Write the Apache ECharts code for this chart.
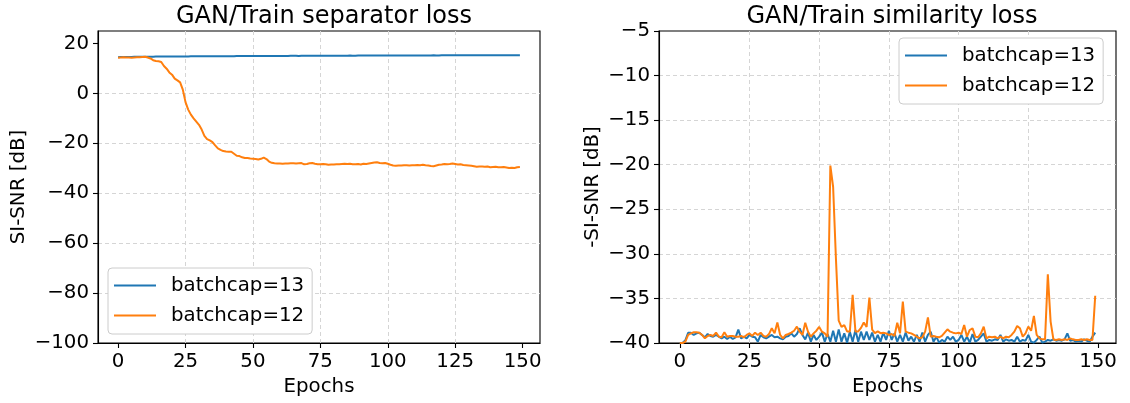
<!DOCTYPE html>
<html>
<head>
<meta charset="utf-8">
<script src="https://cdn.jsdelivr.net/npm/echarts@6/dist/echarts.min.js"></script>
<style>
  html, body { margin: 0; padding: 0; background: #fff; }
  #chart { width: 1130px; height: 403px; }
</style>
</head>
<body>
<div id="chart"></div>
<script>
// Training curves, one value per epoch (0..149)
const seriesNames = ['batchcap=13', 'batchcap=12'];
const xTicks = [0, 25, 50, 75, 100, 125, 150];
const sepTicks = [-100, -80, -60, -40, -20, 0, 20];
const simTicks = [-40, -35, -30, -25, -20, -15, -10, -5];

// GAN/Train separator loss, SI-SNR [dB]
const sepCap13 = [
  14.5,14.6,14.6,14.6,14.6,14.6,14.7,14.7,14.7,14.7,
  14.7,14.7,14.7,14.7,14.8,14.8,14.8,14.8,14.8,14.8,
  14.8,14.8,14.8,14.8,14.8,14.8,14.8,14.9,14.9,14.9,
  14.9,14.9,14.9,14.9,14.9,14.9,14.9,14.9,14.9,14.9,
  14.9,14.9,14.9,14.9,15.0,15.0,15.0,15.0,15.0,15.0,
  15.0,15.0,15.0,15.0,15.0,15.0,15.0,15.0,15.0,15.0,
  15.0,15.0,15.0,15.0,15.1,15.1,15.1,15.0,15.1,15.1,
  15.1,15.1,15.1,15.1,15.1,15.1,15.1,15.1,15.1,15.1,
  15.1,15.1,15.1,15.1,15.1,15.1,15.2,15.1,15.1,15.2,
  15.2,15.2,15.2,15.2,15.2,15.2,15.2,15.2,15.2,15.2,
  15.2,15.2,15.2,15.2,15.2,15.2,15.2,15.2,15.2,15.2,
  15.2,15.2,15.2,15.2,15.2,15.2,15.2,15.3,15.2,15.2,
  15.3,15.3,15.3,15.3,15.3,15.3,15.3,15.3,15.3,15.3,
  15.3,15.3,15.3,15.3,15.3,15.3,15.3,15.3,15.3,15.3,
  15.3,15.3,15.3,15.3,15.3,15.3,15.3,15.3,15.3,15.3
];
const sepCap12 = [
  14.3,14.4,14.5,14.4,14.4,14.3,14.4,14.5,14.5,14.6,
  14.7,14.4,14.0,13.3,13.0,12.9,12.6,11.0,9.9,8.4,
  7.5,5.9,5.2,4.4,1.5,-3.5,-6.5,-8.5,-10.0,-11.3,
  -12.6,-14.5,-17.0,-18.3,-18.8,-19.5,-20.8,-22.0,-22.6,-23.1,
  -23.3,-23.4,-23.4,-24.2,-25.0,-25.1,-25.6,-25.9,-25.9,-26.1,
  -26.2,-26.3,-26.5,-26.2,-25.7,-26.3,-27.3,-27.8,-28.0,-28.1,
  -28.1,-28.2,-28.1,-28.1,-28.0,-28.0,-28.1,-28.0,-27.9,-28.4,
  -28.3,-28.0,-27.9,-28.2,-28.4,-28.4,-28.3,-28.4,-28.6,-28.5,
  -28.5,-28.4,-28.4,-28.3,-28.2,-28.3,-28.2,-28.4,-28.4,-28.3,
  -28.5,-28.2,-28.3,-28.1,-27.9,-27.7,-27.6,-27.9,-28.0,-27.9,
  -28.2,-28.6,-28.9,-29.0,-28.9,-28.9,-28.8,-28.8,-28.9,-28.8,
  -28.8,-28.7,-28.8,-28.6,-28.8,-28.9,-29.1,-29.2,-28.9,-28.6,
  -28.5,-28.3,-28.4,-28.3,-28.1,-28.3,-28.5,-28.4,-28.7,-28.8,
  -28.9,-29.0,-29.2,-29.4,-29.3,-29.3,-29.4,-29.3,-29.6,-29.5,
  -29.4,-29.6,-29.6,-29.5,-29.7,-29.9,-29.8,-29.9,-29.6,-29.5
];

// GAN/Train similarity loss, -SI-SNR [dB]
const simCap13 = [
  -40,-40,-39.7,-38.85,-38.84,-39.1,-38.92,-38.84,-39.1,-39.36,
  -38.99,-39.21,-39.29,-39.1,-39.29,-39.48,-39.29,-39.55,-39.29,-39.55,
  -39.36,-38.5,-39.48,-39.29,-39.48,-39.1,-39.29,-39.36,-39.85,-39.1,
  -39.36,-39.48,-39.29,-39.1,-39.36,-39.29,-39.48,-39.59,-39.29,-39.21,
  -38.92,-39.29,-38.99,-38.35,-39.1,-39.59,-38.84,-39.85,-39.1,-39.66,
  -39.29,-38.84,-39.85,-38.99,-39.85,-38.62,-39.85,-38.47,-39.85,-38.92,
  -39.96,-38.73,-39.85,-38.54,-39.85,-38.73,-39.66,-38.73,-39.66,-38.84,
  -39.85,-39.1,-39.85,-38.84,-39.66,-38.62,-39.66,-38.92,-39.85,-39.1,
  -39.85,-38.84,-39.74,-39.29,-39.85,-39.1,-39.85,-38.84,-39.85,-39.1,
  -38.73,-39.85,-39.29,-39.96,-39.66,-39.85,-39.29,-39.66,-39.29,-39.85,
  -39.66,-39.1,-39.85,-39.29,-39.96,-38.99,-39.85,-39.66,-39.29,-38.92,
  -39.85,-39.66,-39.74,-39.59,-39.66,-39.1,-39.85,-39.59,-39.74,-39.66,
  -39.85,-39.29,-39.85,-39.66,-39.74,-39.1,-39.85,-39.96,-39.66,-39.29,
  -39.96,-39.85,-39.66,-39.74,-39.59,-39.74,-39.66,-39.74,-39.59,-38.92,
  -39.74,-39.66,-39.85,-39.74,-39.85,-39.59,-39.74,-39.85,-39.29,-38.84
];
const simCap12 = [
  -40,-40,-39.85,-39.1,-38.92,-38.8,-38.8,-38.84,-39.1,-39.48,
  -39.21,-39.1,-39.21,-38.84,-39.29,-39.36,-38.8,-39.29,-39.21,-39.21,
  -39.29,-39.29,-39.21,-39.36,-39.1,-38.92,-39.21,-38.84,-39.1,-38.84,
  -39.21,-39.29,-39.0,-38.35,-38.92,-37.7,-39.1,-39.48,-39.1,-38.99,
  -38.84,-38.62,-38.17,-38.73,-39.1,-37.72,-38.73,-39.29,-38.92,-38.62,
  -38.2,-38.73,-38.92,-39.3,-20.1,-22.5,-30.5,-37.5,-38.2,-38.0,
  -38.7,-38.7,-34.6,-38.7,-38.7,-38.3,-37.7,-38.2,-34.9,-38.5,
  -38.9,-38.7,-38.9,-38.84,-38.92,-39.1,-38.99,-39.21,-37.72,-38.92,
  -35.36,-38.73,-38.84,-38.92,-39.1,-39.29,-39.48,-39.36,-38.73,-37.12,
  -39.29,-39.21,-39.29,-39.36,-39.21,-38.84,-38.47,-38.73,-38.84,-38.92,
  -38.84,-38.99,-37.98,-39.29,-38.54,-38.35,-39.29,-39.36,-38.92,-38.17,
  -39.48,-39.29,-39.36,-39.29,-39.48,-39.29,-39.48,-39.29,-39.36,-39.1,
  -38.73,-38.09,-38.35,-39.29,-38.92,-38.17,-38.62,-36.97,-39.1,-39.48,
  -39.59,-39.59,-32.3,-37.6,-39.6,-39.66,-39.59,-39.66,-39.59,-39.66,
  -39.48,-39.59,-39.66,-39.66,-39.59,-39.66,-39.59,-39.66,-39.66,-34.7
];

const COLORS = ['#1f77b4', '#ff7f0e'];
const FONT = 'DejaVu Sans';
const BASE = 19.8;
const minus = v => String(v).replace('-', '\u2212');
const pairs = arr => arr.map((v, i) => [i, v]);
const gridLine = { show: true, showMinLine: false, showMaxLine: false,
  lineStyle: { color: '#d5d5d5', width: 1, type: [4, 3] } };

function xAxisFor(gridIndex) {
  return {
    type: 'value', gridIndex, min: -7.45, max: 156.45,
    name: 'Epochs', nameLocation: 'middle', nameGap: 31,
    nameTextStyle: { fontFamily: FONT, fontSize: BASE, color: '#000' },
    axisLine: { show: true, onZero: false, lineStyle: { color: '#000', width: 1.1 } },
    axisTick: { show: true, length: 5, customValues: xTicks, lineStyle: { color: '#000', width: 1.1 } },
    axisLabel: { customValues: xTicks, margin: 9, fontFamily: FONT, fontSize: BASE, color: '#000', formatter: minus },
    splitLine: gridLine
  };
}
function yAxisFor(gridIndex, min, max, ticks, name, gap) {
  return {
    type: 'value', gridIndex, min, max,
    name, nameLocation: 'middle', nameGap: gap, nameRotate: 90,
    nameTextStyle: { fontFamily: FONT, fontSize: BASE, color: '#000' },
    axisLine: { show: true, onZero: false, lineStyle: { color: '#000', width: 1.1 } },
    axisTick: { show: true, length: 5, customValues: ticks, lineStyle: { color: '#000', width: 1.1 } },
    axisLabel: { customValues: ticks, margin: 9, fontFamily: FONT, fontSize: BASE, color: '#000', formatter: minus },
    splitLine: gridLine
  };
}
function legendAt(left, top) {
  return {
    data: seriesNames, orient: 'vertical', left, top,
    icon: 'rect', itemWidth: 42, itemHeight: 2,
    padding: [6, 8, 7, 6], itemGap: 7,
    backgroundColor: '#fff', borderColor: '#cccccc', borderWidth: 1, borderRadius: 4,
    selectedMode: false,
    textStyle: { fontFamily: FONT, fontSize: BASE, color: '#000', lineHeight: 23, padding: [0, 0, 0, 10] }
  };
}
function lineSeries(name, data, axisIndex, color) {
  return {
    type: 'line', name, data: pairs(data), xAxisIndex: axisIndex, yAxisIndex: axisIndex,
    showSymbol: false, symbol: 'none', color,
    lineStyle: { color, width: 2 }, emphasis: { disabled: true }
  };
}

const chart = echarts.init(document.getElementById('chart'), null, { renderer: 'canvas' });
chart.setOption({
  animation: false,
  backgroundColor: '#fff',
  title: [
    { text: 'GAN/Train separator loss', left: 319, top: 0, textAlign: 'center',
      textStyle: { fontFamily: FONT, fontSize: 24, fontWeight: 'normal', color: '#000' } },
    { text: 'GAN/Train similarity loss', left: 887, top: 0, textAlign: 'center',
      textStyle: { fontFamily: FONT, fontSize: 24, fontWeight: 'normal', color: '#000' } }
  ],
  grid: [
    { left: 98, top: 31, width: 442, height: 312, show: true, borderColor: '#000', borderWidth: 1.1, backgroundColor: 'transparent' },
    { left: 659, top: 31, width: 457, height: 312, show: true, borderColor: '#000', borderWidth: 1.1, backgroundColor: 'transparent' }
  ],
  xAxis: [xAxisFor(0), xAxisFor(1)],
  yAxis: [
    yAxisFor(0, -100, 25, sepTicks, 'SI-SNR [dB]', 69),
    yAxisFor(1, -40, -5, simTicks, '-SI-SNR [dB]', 56)
  ],
  legend: [legendAt(108, 268), legendAt(899, 38)],
  series: [
    lineSeries(seriesNames[0], sepCap13, 0, COLORS[0]),
    lineSeries(seriesNames[1], sepCap12, 0, COLORS[1]),
    lineSeries(seriesNames[0], simCap13, 1, COLORS[0]),
    lineSeries(seriesNames[1], simCap12, 1, COLORS[1])
  ]
});
</script>
</body>
</html>
